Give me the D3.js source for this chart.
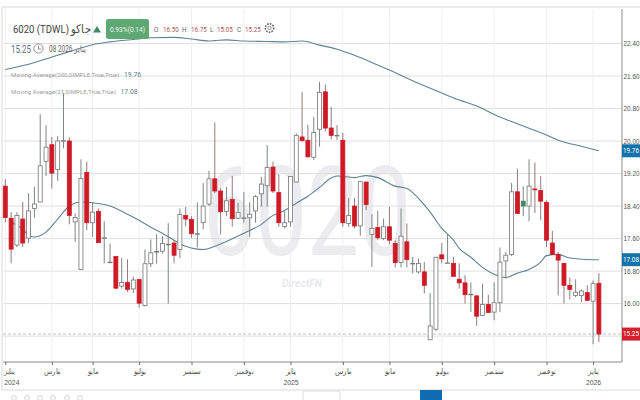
<!DOCTYPE html>
<html>
<head>
<meta charset="utf-8">
<title>6020 (TDWL)</title>
<script src="https://cdn.jsdelivr.net/npm/d3@7/dist/d3.min.js"></script>
<style>
  html, body { margin: 0; padding: 0; background: #fff; }
  svg { display: block; font-family: Roboto, sans-serif; }
  .tick-label { font-size: 8px; fill: #555; }
  .price-label { font-size: 6.4px; fill: #555; }
</style>
</head>
<body>
<div id="chart"></div>
<script>
// weekly candles, oldest first
var opens = [18.89,18.10,17.44,18.08,17.61,18.34,18.50,19.50,19.91,19.30,
  20.00,20.00,18.01,16.84,19.23,17.99,18.27,17.62,17.01,17.16,
  16.43,16.52,16.36,16.59,15.95,16.98,17.28,17.29,17.46,17.49,
  17.33,18.17,18.07,17.72,17.99,18.45,19.07,18.77,18.27,18.56,
  18.10,18.11,18.11,18.28,18.70,18.90,19.36,18.73,17.90,18.01,
  18.99,20.10,20.02,19.60,20.29,21.21,20.32,20.14,20.02,17.97,
  18.40,17.91,18.99,17.70,17.87,17.60,17.89,17.48,17.01,17.52,
  16.99,16.78,16.78,15.11,15.37,17.20,17.00,16.99,16.60,16.51,
  16.23,16.19,15.71,15.98,15.79,16.02,17.05,17.21,18.75,18.40,
  18.40,18.82,18.78,18.49,17.49,17.21,16.99,16.45,16.20,16.20,
  16.27,16.06,16.50];
var highs = [19.06,18.25,18.25,18.50,18.72,18.87,20.66,20.39,20.10,20.12,
  21.18,20.09,18.22,19.55,19.49,18.50,18.34,18.03,17.48,17.16,
  17.12,17.09,16.66,16.60,17.33,17.58,17.71,17.66,17.98,17.56,
  18.34,18.38,18.15,18.49,18.97,19.27,20.46,18.84,18.87,19.14,
  18.48,18.75,18.50,18.67,19.12,19.90,19.49,19.18,18.27,19.14,
  20.19,21.20,20.40,20.60,21.46,21.39,20.84,20.39,20.20,18.60,
  18.60,19.00,19.00,18.20,18.28,18.09,18.38,17.56,18.34,17.97,
  17.15,17.11,17.02,16.26,17.15,17.49,17.71,17.15,16.99,16.70,
  16.52,16.20,16.49,16.22,16.52,17.38,17.27,18.97,19.32,18.89,
  19.55,19.47,19.14,18.54,17.79,17.27,16.99,16.64,16.60,16.35,
  16.45,16.57,16.75];
var lows = [18.00,16.99,17.39,17.39,17.49,18.11,18.50,19.14,18.83,19.02,
  19.82,17.95,17.52,16.84,17.81,17.64,17.50,16.99,17.01,16.35,
  16.37,16.29,16.26,15.90,15.93,16.90,16.98,17.23,16.00,16.99,
  17.12,17.90,17.61,17.38,17.83,18.40,18.72,17.70,18.15,17.89,
  18.08,17.99,17.64,17.99,18.38,18.38,18.72,17.89,17.85,17.89,
  18.98,19.98,19.60,19.53,19.86,20.24,20.04,20.02,17.89,17.89,
  17.85,17.67,18.30,16.90,17.56,17.56,17.46,16.89,16.89,16.89,
  16.74,16.74,16.25,15.11,15.32,16.99,16.99,16.67,16.37,16.00,
  15.79,15.45,15.69,15.77,15.59,15.79,16.62,17.17,18.20,18.15,
  18.03,18.23,18.05,17.39,17.21,16.20,16.00,16.10,16.16,16.04,
  16.06,15.00,15.05];
var closes = [18.12,17.34,18.17,17.49,18.28,18.45,19.39,19.85,19.21,20.00,
  20.01,18.17,18.12,19.08,17.99,18.25,17.50,17.62,17.02,16.38,
  16.52,16.35,16.58,16.01,16.98,17.25,17.28,17.48,17.46,17.19,
  18.19,18.08,17.72,17.72,18.40,19.07,18.77,18.26,18.53,18.09,
  18.24,18.11,18.20,18.63,18.94,19.35,18.77,17.99,17.99,19.13,
  20.14,20.01,19.61,20.21,21.20,20.32,20.14,20.14,17.99,18.17,
  17.91,19.00,18.44,17.85,17.62,17.89,17.56,17.01,17.66,17.08,
  16.99,16.99,16.45,15.45,17.14,17.10,17.00,16.67,16.51,16.22,
  16.23,15.69,15.98,15.78,16.02,17.02,17.19,18.75,18.22,18.52,
  18.89,18.80,18.52,17.56,17.21,17.07,16.45,16.35,16.28,16.31,
  16.08,16.49,15.25];
var greenCandles = [89];

var ma200Index = [0,4,8,11,15,18,22,25,29,32,35,36,38,41,45,48,51,54,57,60,64,66,71,75,78,81,85,89,93,95,99,102];
var ma200Values = [21.76,21.89,22.07,22.20,22.37,22.44,22.50,22.54,22.55,22.51,22.46,22.47,22.49,22.46,22.45,22.44,22.46,22.36,22.26,22.11,21.87,21.75,21.42,21.18,21.01,20.86,20.59,20.37,20.15,20.02,19.87,19.76];
var ma21Index = [1,3,4,5,7,9,11,13,15,18,21,23,25,27,29,31,33,34,36,38,41,44,46,48,50,52,54,56,57,60,62,64,67,69,71,73,75,77,78,80,82,84,86,88,90,92,93,95,97,101,102];
var ma21Values = [18.00,17.83,17.68,17.64,17.76,18.08,18.40,18.50,18.48,18.40,18.20,18.05,17.88,17.73,17.56,17.41,17.34,17.33,17.41,17.53,17.73,17.95,18.17,18.29,18.47,18.64,18.86,19.09,19.14,19.10,19.15,19.10,18.89,18.83,18.59,18.25,17.85,17.56,17.36,17.14,16.89,16.72,16.64,16.75,16.84,17.02,17.18,17.21,17.12,17.08,17.08];

var priceTicks = [15.2,16,16.8,17.6,18.4,19.2,20,20.8,21.6,22.4];
var dateTickIndex = [0,8,15,23,32,41,49,58,66,75,84,93,101];
var dateTickMonths = ['يناير','مارس','مايو','يوليو','سبتمبر','نوفمبر','يناير','مارس','مايو','يوليو','سبتمبر','نوفمبر','يناير'];
var dateTickYears = ['2024','','','','','','2025','','','','','','2026'];

var width = 640, height = 400;
var plotLeft = 3, plotRight = 622, plotTop = 9, plotBottom = 362;

var svg = d3.select('#chart').append('svg')
  .attr('width', width)
  .attr('height', height);

var x = d3.scaleLinear().domain([0, 102]).range([5.3, 598.9]);
var y = d3.scaleLinear().domain([15.2, 22.4]).range([336.1, 43.5]);

// the original uses a narrow face, none is installed so squeeze the glyphs
function squeeze(sel, ratio) {
  sel.each(function () {
    d3.select(this)
      .attr('textLength', this.getComputedTextLength() * ratio)
      .attr('lengthAdjust', 'spacingAndGlyphs');
  });
}

// frame
svg.append('rect')
  .attr('x', plotLeft - 1).attr('y', plotTop - 2)
  .attr('width', width).attr('height', 383)
  .attr('fill', 'none').attr('stroke', '#e6e6e6').attr('stroke-width', 1.5);

// watermark
svg.append('text')
  .attr('x', 203).attr('y', 255)
  .attr('font-size', 125)
  .attr('textLength', 208)
  .attr('lengthAdjust', 'spacingAndGlyphs')
  .attr('fill', '#ececf0')
  .text('6020');
svg.append('text')
  .attr('x', 302).attr('y', 287)
  .attr('text-anchor', 'middle')
  .attr('font-size', 10.5)
  .attr('font-style', 'italic')
  .attr('font-weight', 700)
  .attr('fill', '#e8e9ef')
  .text('DirectFN');

// grid
svg.append('g').selectAll('line').data(priceTicks).join('line')
  .attr('x1', plotLeft).attr('x2', plotRight)
  .attr('y1', function (d) { return y(d); })
  .attr('y2', function (d) { return y(d); })
  .attr('stroke', '#dfdfdf').attr('stroke-width', 1);
svg.append('g').selectAll('line').data(dateTickIndex).join('line')
  .attr('x1', function (d) { return x(d); })
  .attr('x2', function (d) { return x(d); })
  .attr('y1', plotTop).attr('y2', plotBottom)
  .attr('stroke', '#efefef').attr('stroke-width', 1);

// last price line
svg.append('line')
  .attr('x1', plotLeft).attr('x2', plotRight)
  .attr('y1', y(closes[102])).attr('y2', y(closes[102]))
  .attr('stroke', '#c4c4c4').attr('stroke-dasharray', '3,2');

// moving averages sit behind the candles
var maLine = d3.line()
  .x(function (d) { return x(d[0]); })
  .y(function (d) { return y(d[1]); })
  .curve(d3.curveMonotoneX);

svg.append('path')
  .attr('d', maLine(d3.zip(ma200Index, ma200Values)))
  .attr('fill', 'none').attr('stroke', '#5f8296').attr('stroke-width', 1.1);
svg.append('path')
  .attr('d', maLine(d3.zip(ma21Index, ma21Values)))
  .attr('fill', 'none').attr('stroke', '#5f8296').attr('stroke-width', 1.1);

// candles
var candles = d3.range(opens.length).map(function (i) {
  return { i: i, o: opens[i], h: highs[i], l: lows[i], c: closes[i] };
});
var red = '#cf1a26', green = '#3f8a62';

function isRed(d) { return d.c < d.o; }

var candle = svg.append('g').selectAll('g').data(candles).join('g');

candle.append('line')
  .attr('x1', function (d) { return x(d.i); })
  .attr('x2', function (d) { return x(d.i); })
  .attr('y1', function (d) { return y(d.h); })
  .attr('y2', function (d) { return y(d.l); })
  .attr('stroke', function (d) { return isRed(d) ? '#96797b' : '#7d8782'; })
  .attr('stroke-width', 1);

candle.append('rect')
  .attr('x', function (d) { return x(d.i) - 2; })
  .attr('width', 4)
  .attr('y', function (d) { return y(Math.max(d.o, d.c)); })
  .attr('height', function (d) { return Math.max(0.6, Math.abs(y(d.o) - y(d.c))); })
  .attr('fill', function (d) {
    if (greenCandles.indexOf(d.i) >= 0) return green;
    return isRed(d) ? red : '#fff';
  })
  .attr('stroke', function (d) {
    if (greenCandles.indexOf(d.i) >= 0) return green;
    return isRed(d) ? red : '#767676';
  })
  .attr('stroke-width', 0.8);

// axes
var yAxis = d3.axisRight(y)
  .tickValues(priceTicks.slice(1))
  .tickSize(0)
  .tickPadding(1.5)
  .tickFormat(d3.format('.2f'));
var yg = svg.append('g').attr('transform', 'translate(' + plotRight + ',0)').call(yAxis);
yg.select('.domain').attr('stroke', '#8a8a8a').attr('d', 'M0,' + plotTop + 'V' + plotBottom);
yg.selectAll('text').attr('class', 'price-label').attr('font-size', null).attr('font-family', null);

var xAxis = d3.axisBottom(x)
  .tickValues(dateTickIndex)
  .tickSize(3)
  .tickPadding(3)
  .tickFormat(function (d, i) { return dateTickMonths[i]; });
var xg = svg.append('g').attr('transform', 'translate(0,' + plotBottom + ')').call(xAxis);
xg.select('.domain').attr('stroke', '#8a8a8a').attr('d', 'M' + plotLeft + ',0H' + plotRight);
xg.selectAll('.tick line').attr('stroke', '#666');
xg.selectAll('text').attr('class', 'tick-label').attr('font-size', null).attr('font-family', null);
xg.selectAll('.tick').filter(function (d, i) { return dateTickYears[i]; })
  .append('text')
  .attr('class', 'tick-label')
  .attr('y', 23)
  .attr('text-anchor', 'middle')
  .text(function (d) { return dateTickYears[dateTickIndex.indexOf(d)]; });
squeeze(xg.selectAll('text'), 0.85);
// first tick's labels are pushed right so they stay inside the frame
xg.selectAll('.tick').filter(function (d) { return d === 0; }).selectAll('text')
  .attr('text-anchor', 'start')
  .attr('x', -1.5);

// price tags on the axis
var tags = [
  { v: ma200Values[ma200Values.length - 1], fill: '#1273ab' },
  { v: ma21Values[ma21Values.length - 1], fill: '#1273ab' },
  { v: closes[102], fill: '#d3202a' }
];
var tag = svg.append('g').selectAll('g').data(tags).join('g')
  .attr('transform', function (d) { return 'translate(' + plotRight + ',' + y(d.v) + ')'; });
tag.append('rect')
  .attr('x', 0).attr('y', -6.5).attr('width', 18).attr('height', 13)
  .attr('fill', function (d) { return d.fill; });
tag.append('text')
  .attr('x', 9).attr('y', 2.4)
  .attr('text-anchor', 'middle')
  .attr('font-size', 6.4)
  .attr('fill', '#fff')
  .text(function (d) { return d3.format('.2f')(d.v); });

// header
var title = svg.append('text')
  .attr('x', 13).attr('y', 33)
  .attr('font-size', 11.5).attr('fill', '#444')
  .text('6020  (TDWL)  جاكو');
squeeze(title, 0.83);
svg.append('path')
  .attr('d', 'M93,32.5L97,26L101,32.5Z')
  .attr('fill', '#3f8a62');
svg.append('rect')
  .attr('x', 106).attr('y', 19).attr('width', 43).attr('height', 20).attr('rx', 2.5)
  .attr('fill', '#5fa873');
var change = svg.append('text')
  .attr('x', 127.5).attr('y', 31.5)
  .attr('text-anchor', 'middle')
  .attr('font-size', 7.5).attr('fill', '#eaf5ec')
  .text('0.93%(0.14)');
squeeze(change, 0.88);

var ohlcLabels = ['O', 'H', 'L', 'C'];
var ohlcValues = [16.50, 16.75, 15.05, 15.25];
var ohlcX = [154, 182, 210, 237];
var ohlcValueX = [163, 191, 217, 245];
var ohlcKeys = svg.append('g').selectAll('text').data(ohlcLabels).join('text')
  .attr('x', function (d, i) { return ohlcX[i]; })
  .attr('y', 31.5)
  .attr('font-size', 8).attr('fill', '#666')
  .text(function (d) { return d; });
squeeze(ohlcKeys, 0.8);
var ohlcVals = svg.append('g').selectAll('text').data(ohlcValues).join('text')
  .attr('x', function (d, i) { return ohlcValueX[i]; })
  .attr('y', 31.5)
  .attr('font-size', 8).attr('fill', '#a8585a')
  .text(function (d) { return d3.format('.2f')(d); });
squeeze(ohlcVals, 0.78);

// settings cog
var cog = svg.append('g').attr('transform', 'translate(269.5,28)');
cog.append('circle').attr('r', 4.2).attr('fill', 'none').attr('stroke', '#666').attr('stroke-width', 1.6).attr('stroke-dasharray', '1.6,1.2');
cog.append('circle').attr('r', 1.7).attr('fill', 'none').attr('stroke', '#666').attr('stroke-width', 0.7);

var lastPrice = svg.append('text')
  .attr('x', 11).attr('y', 52.5)
  .attr('font-size', 10).attr('fill', '#5f6f7a')
  .text('15.25');
squeeze(lastPrice, 0.8);
svg.append('circle')
  .attr('cx', 38.5).attr('cy', 48.5).attr('r', 4.6)
  .attr('fill', 'none').attr('stroke', '#666').attr('stroke-width', 0.7);
svg.append('path')
  .attr('d', 'M38.5,45.5V49H41')
  .attr('fill', 'none').attr('stroke', '#666').attr('stroke-width', 0.7);
var lastDate = svg.append('text')
  .attr('x', 49).attr('y', 52)
  .attr('font-size', 9).attr('fill', '#666')
  .text('08 2026 يناير');
squeeze(lastDate, 0.72);

// indicator legend
var legendNames = ['Moving Average(200,SIMPLE,True,True)', 'Moving Average(21,SIMPLE,True,True)'];
var legendValues = ['19.76', '17.08'];
var legendValueX = [124, 120.5];
svg.append('g').selectAll('text').data(legendNames).join('text')
  .attr('x', 11).attr('y', function (d, i) { return 77 + i * 17; })
  .attr('font-size', 6.2).attr('fill', '#a0a0a0')
  .text(function (d) { return d; });
svg.append('g').selectAll('text').data(legendValues).join('text')
  .attr('x', function (d, i) { return legendValueX[i]; })
  .attr('y', function (d, i) { return 77 + i * 17; })
  .attr('font-size', 6.8).attr('fill', '#5f8296')
  .text(function (d) { return d; });

// bottom toolbar, mostly cut off by the photo
svg.append('g').selectAll('circle').data([14, 27, 40, 53, 67, 80]).join('circle')
  .attr('cx', function (d) { return d; })
  .attr('cy', 398).attr('r', 2.4)
  .attr('fill', 'none').attr('stroke', '#c8c8c8').attr('stroke-width', 0.8);
svg.append('rect')
  .attr('x', 303).attr('y', 391).attr('width', 37).attr('height', 14).attr('rx', 2)
  .attr('fill', '#fff').attr('stroke', '#dedede');
svg.append('rect')
  .attr('x', 420).attr('y', 390).attr('width', 22).attr('height', 10)
  .attr('fill', '#0f6cb0');
</script>
</body>
</html>
